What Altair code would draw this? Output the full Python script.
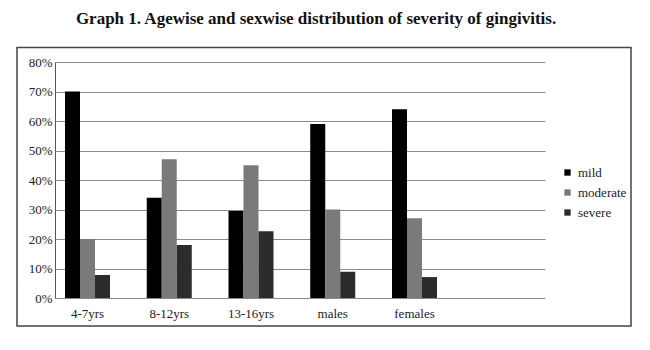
import altair as alt
import pandas as pd

categories = ["4-7yrs", "8-12yrs", "13-16yrs", "males", "females"]
severities = ["mild", "moderate", "severe"]
mild = [70, 34, 29.5, 59, 64]
moderate = [20, 47, 45, 30, 27]
severe = [7.8, 18, 22.6, 8.9, 7.1]
colors = ["#000000", "#7a7a7a", "#2c2c2c"]
y_ticks = [0, 10, 20, 30, 40, 50, 60, 70, 80]

rows = []
for i, c in enumerate(categories):
    for s, vals in zip(severities, [mild, moderate, severe]):
        rows.append({"group": c, "severity": s, "value": vals[i]})
df = pd.DataFrame(rows)

FONT = "'Liberation Serif', 'DejaVu Serif', serif"

bars = alt.Chart(df).mark_bar().encode(
    x=alt.X("group:N", sort=categories,
            scale=alt.Scale(paddingInner=0.4495, paddingOuter=0.7217, align=0.0847),
            axis=alt.Axis(title=None, labelAngle=0, ticks=False, domain=False,
                          labelPadding=9, grid=False, labelFont=FONT,
                          labelFontSize=13, labelColor="#222")),
    xOffset=alt.XOffset("severity:N", sort=severities,
                        scale=alt.Scale(paddingInner=0, paddingOuter=0)),
    y=alt.Y("value:Q", scale=alt.Scale(domain=[0, 80], nice=False),
            axis=alt.Axis(title=None, values=y_ticks, labelExpr="datum.value + '%'",
                          ticks=False, grid=True, gridColor="#8a8a8a", gridWidth=1,
                          domain=True, domainColor="#555", labelPadding=3,
                          labelFont=FONT, labelFontSize=13, labelColor="#222")),
    color=alt.Color("severity:N", sort=severities,
                    scale=alt.Scale(domain=severities, range=colors),
                    legend=alt.Legend(title=None, orient="none", legendX=506, legendY=104,
                                      symbolType="square", symbolSize=40, symbolStrokeWidth=0,
                                      rowPadding=6, padding=0, labelFont=FONT,
                                      labelFontSize=13, labelColor="#222")),
)

frame = alt.Chart(alt.Data(values=[{"a": 1}])).mark_rect(
    filled=False, stroke="#444", strokeWidth=1.5
).encode(
    x=alt.value(-38), x2=alt.value(576), y=alt.value(-14.5), y2=alt.value(264)
)

chart = alt.layer(frame, bars).properties(
    width=490, height=236,
    title=alt.Title("Graph 1. Agewise and sexwise distribution of severity of gingivitis.",
                    font=FONT, fontSize=17, fontWeight="bold", color="#111",
                    anchor="middle", offset=2, dx=16, baseline="bottom"),
    padding={"left": 55, "top": 62, "right": 105, "bottom": 52},
    autosize=alt.AutoSizeParams(type="none"),
).configure_view(stroke=None)

chart.save("out.html", embed_options={"renderer": "svg", "actions": False})
